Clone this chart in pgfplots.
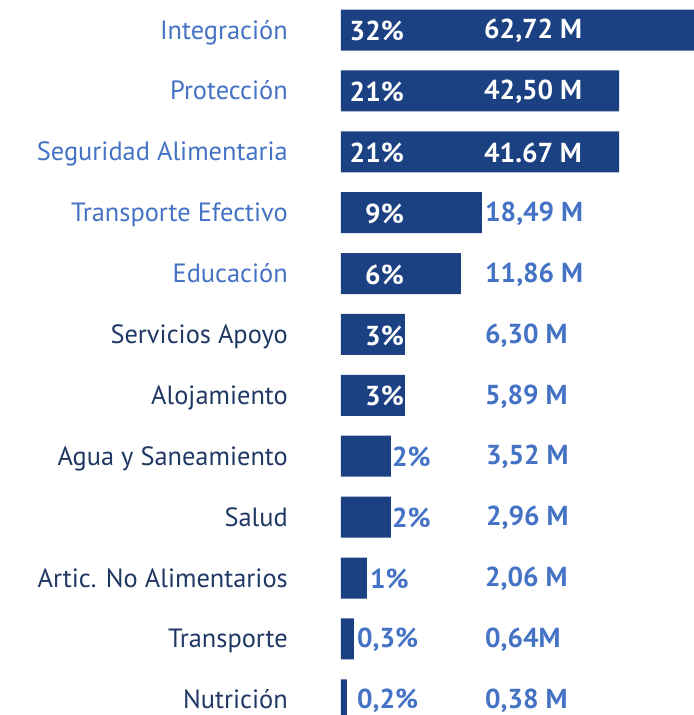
\documentclass[border=0pt]{standalone}
\usepackage{fontspec}
\setmainfont{PT Sans}
\usepackage{pgfplots}
\pgfplotsset{compat=1.18}
\definecolor{barblue}{HTML}{1B4183}
\definecolor{lightblue}{HTML}{4472C4}
\definecolor{darkblue}{HTML}{203864}

\begin{document}
\begin{tikzpicture}
\begin{axis}[
  name=ax,
  scale only axis,
  width=353bp, height=715bp,
  xmin=0, xmax=353,
  ymin=-0.493, ymax=11.25,
  y dir=reverse,
  axis line style={draw=none},
  tick style={draw=none},
  xtick=\empty,
  ytick={0,...,11},
  yticklabels={
    {\color{lightblue}Integración},
    {\color{lightblue}Protección},
    {\color{lightblue}Seguridad Alimentaria},
    {\color{lightblue}Transporte Efectivo},
    {\color{lightblue}Educación},
    {\color{darkblue}Servicios Apoyo},
    {\color{darkblue}Alojamiento},
    {\color{darkblue}Agua y Saneamiento},
    {\color{darkblue}Salud},
    {\color{darkblue}Artic. No Alimentarios},
    {\color{darkblue}Transporte},
    {\color{darkblue}Nutrición}},
  yticklabel style={anchor=base east, inner sep=0pt, xshift=-53bp, yshift=-9bp,
    font=\fontsize{26.5}{30}\selectfont},
  every node near coord/.append style={font=\fontsize{27.5}{31}\bfseries, inner sep=0pt,
    yshift=-1bp},
]
% bar lengths as drawn (the picture's bars are not to scale)
\addplot[xbar, bar width=41bp, bar shift=0pt, fill=barblue, draw=none] coordinates {
  (380,0) (278,1) (278,2) (141,3) (120,4) (64,5) (64,6)
  (50,7) (50,8) (26,9) (13,10) (6,11)
};
% percentages inside the bars
\addplot[only marks, mark=none, point meta=explicit symbolic,
  nodes near coords, nodes near coords style={anchor=east, text=white}] coordinates {
  (63,0) [32\%] (63,1) [21\%] (63,2) [21\%] (63,3) [9\%]
  (63,4) [6\%] (63,5) [3\%] (63,6) [3\%]
};
% percentages beside the bars
\addplot[only marks, mark=none, point meta=explicit symbolic,
  nodes near coords, nodes near coords style={anchor=west, text=lightblue}] coordinates {
  (51,7) [2\%] (51,8) [2\%] (29,9) [1\%] (16,10) [0,3\%] (16,11) [0,2\%]
};
% amounts, white on the long bars
\addplot[only marks, mark=none, point meta=explicit symbolic,
  nodes near coords, nodes near coords style={anchor=west, text=white}] coordinates {
  (143,0) [62,72 M] (143,1) [42,50 M] (143,2) [41.67 M]
};
% amounts, blue elsewhere
\addplot[only marks, mark=none, point meta=explicit symbolic,
  nodes near coords, nodes near coords style={anchor=west, text=lightblue}] coordinates {
  (144,3) [18,49 M] (144,4) [11,86 M] (144,5) [6,30 M] (144,6) [5,89 M]
  (145,7) [3,52 M] (145,8) [2,96 M] (144,9) [2,06 M] (144,10) [0,64M] (144,11) [0,38 M]
};
\end{axis}
\pgfresetboundingbox
\path (ax.south west) ++(-341bp,0) rectangle (ax.north east);
\end{tikzpicture}
\end{document}
